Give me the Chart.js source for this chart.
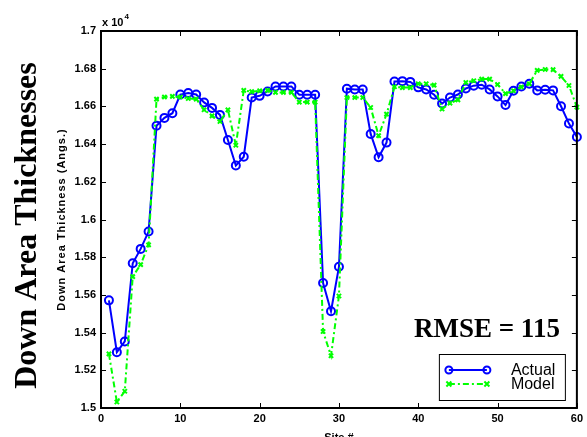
<!DOCTYPE html>
<html>
<head>
<meta charset="utf-8">
<script src="https://cdn.jsdelivr.net/npm/chart.js@4"></script>
<style>
  html, body { margin: 0; padding: 0; background: #fff; }
  #wrap { width: 587px; height: 437px; }
</style>
</head>
<body>
<div id="wrap"><canvas id="grafico" width="587" height="437"></canvas></div>
<script>
// dados (espessura em Angstroms)
const sites = Array.from({ length: 60 }, (_, i) => i + 1);

const actual = [15571, 15296, 15353, 15768, 15844, 15936, 16497, 16539, 16564, 16663,
                16671, 16663, 16621, 16592, 16555, 16422, 16286, 16333, 16647, 16656,
                16679, 16706, 16706, 16706, 16662, 16662, 16662, 15663, 15513, 15749,
                16694, 16690, 16690, 16454, 16330, 16408, 16732, 16734, 16730, 16701,
                16690, 16662, 16615, 16647, 16663, 16695, 16710, 16715, 16690, 16653,
                16607, 16683, 16706, 16720, 16685, 16688, 16685, 16601, 16509, 16438];

const model = [15287, 15032, 15089, 15697, 15761, 15865, 16639, 16650, 16653, 16650,
               16642, 16639, 16582, 16550, 16520, 16582, 16394, 16685, 16678, 16683,
               16685, 16674, 16674, 16674, 16623, 16623, 16623, 15406, 15277, 15594,
               16647, 16647, 16647, 16594, 16445, 16559, 16704, 16700, 16700, 16720,
               16720, 16713, 16586, 16617, 16635, 16727, 16736, 16745, 16745, 16716,
               16668, 16683, 16703, 16720, 16791, 16796, 16795, 16759, 16711, 16596];

const seriesNames = ['Actual', 'Model'];
const rmseText = 'RMSE = 115';

const AZUL = '#0000ff';
const VERDE = '#00ff00';
const tickFont = { family: 'Liberation Sans', size: 11, weight: 'bold' };

// desenha caixa, ticks internos, títulos e legenda (estilo MATLAB)
const matlabPlugin = {
    id: 'matlab',
    afterDraw(chart) {
        const ctx = chart.ctx;
        const a = chart.chartArea;
        const xs = chart.scales.x;
        const ys = chart.scales.y;
        ctx.save();

        // ticks para dentro, nos 4 lados
        ctx.strokeStyle = '#000';
        ctx.lineWidth = 1;
        ctx.beginPath();
        xs.ticks.forEach(t => {
            const px = Math.round(xs.getPixelForValue(t.value)) + 0.5;
            ctx.moveTo(px, a.bottom); ctx.lineTo(px, a.bottom - 5);
            ctx.moveTo(px, a.top); ctx.lineTo(px, a.top + 5);
        });
        ys.ticks.forEach(t => {
            const py = Math.round(ys.getPixelForValue(t.value)) + 0.5;
            ctx.moveTo(a.left, py); ctx.lineTo(a.left + 5, py);
            ctx.moveTo(a.right, py); ctx.lineTo(a.right - 5, py);
        });
        ctx.stroke();

        // caixa
        ctx.lineWidth = 2;
        ctx.strokeRect(a.left, a.top, a.right - a.left, a.bottom - a.top);

        // "x 10^4"
        ctx.fillStyle = '#000';
        ctx.font = 'bold 11px "Liberation Sans"';
        ctx.textAlign = 'left';
        ctx.textBaseline = 'alphabetic';
        ctx.fillText('x 10', a.left + 1, a.top - 5);
        const w = ctx.measureText('x 10').width;
        ctx.font = 'bold 8px "Liberation Sans"';
        ctx.fillText('4', a.left + 2 + w, a.top - 12);

        // título do eixo x (cortado em baixo, como no original)
        ctx.font = 'bold 11px "Liberation Sans"';
        ctx.textAlign = 'center';
        ctx.fillText('Site #', (a.left + a.right) / 2, a.bottom + 33);

        // títulos do eixo y
        ctx.save();
        ctx.translate(62, (a.top + a.bottom) / 2);
        ctx.rotate(-Math.PI / 2);
        ctx.textBaseline = 'middle';
        ctx.letterSpacing = '1px';
        ctx.fillText('Down Area Thickness (Angs.)', 0, 0);
        ctx.restore();

        ctx.save();
        ctx.translate(28, (a.top + a.bottom) / 2 + 6);
        ctx.rotate(-Math.PI / 2);
        ctx.textBaseline = 'middle';
        ctx.font = 'bold 32px "Liberation Serif"';
        ctx.fillText('Down Area Thicknesses', 0, 0);
        ctx.restore();

        // RMSE
        ctx.font = 'bold 27px "Liberation Serif"';
        ctx.textAlign = 'right';
        ctx.textBaseline = 'alphabetic';
        ctx.fillText(rmseText, a.right - 17, a.bottom - 71);

        // legenda
        const bx = a.right - 138, by = a.bottom - 54, bw = 126, bh = 46;
        ctx.fillStyle = '#fff';
        ctx.fillRect(bx, by, bw, bh);
        ctx.lineWidth = 1;
        ctx.strokeStyle = '#000';
        ctx.strokeRect(bx + 0.5, by + 0.5, bw, bh);

        const itens = [
            { nome: seriesNames[0], cor: AZUL, dash: [], y: by + 16 },
            { nome: seriesNames[1], cor: VERDE, dash: [6, 3, 2, 3], y: by + 30 }
        ];
        itens.forEach((it, i) => {
            const x1 = bx + 10, x2 = bx + 48;
            ctx.strokeStyle = it.cor;
            ctx.lineWidth = 2;
            ctx.setLineDash(it.dash);
            ctx.beginPath();
            ctx.moveTo(x1, it.y); ctx.lineTo(x2, it.y);
            ctx.stroke();
            ctx.setLineDash([]);
            [x1, x2].forEach(x => {
                ctx.beginPath();
                if (i === 0) {
                    ctx.arc(x, it.y, 3.5, 0, Math.PI * 2);
                } else {
                    ctx.moveTo(x - 2.5, it.y - 2.5); ctx.lineTo(x + 2.5, it.y + 2.5);
                    ctx.moveTo(x + 2.5, it.y - 2.5); ctx.lineTo(x - 2.5, it.y + 2.5);
                }
                ctx.stroke();
            });
            ctx.fillStyle = '#000';
            ctx.font = '16px "Liberation Sans"';
            ctx.textAlign = 'left';
            ctx.textBaseline = 'middle';
            ctx.fillText(it.nome, bx + 72, it.y + 1);
        });

        ctx.restore();
    }
};

const ctx = document.getElementById('grafico').getContext('2d');

new Chart(ctx, {
    type: 'line',
    data: {
        datasets: [
            {
                label: seriesNames[0],
                data: sites.map((s, i) => ({ x: s, y: actual[i] })),
                borderColor: AZUL,
                backgroundColor: 'rgba(0,0,0,0)',
                borderWidth: 2,
                pointStyle: 'circle',
                pointRadius: 4,
                pointBorderWidth: 2,
                tension: 0,
                clip: false,
                order: 1
            },
            {
                label: seriesNames[1],
                data: sites.map((s, i) => ({ x: s, y: model[i] })),
                borderColor: VERDE,
                backgroundColor: VERDE,
                borderWidth: 2,
                borderDash: [6, 3, 2, 3],
                pointStyle: 'crossRot',
                pointRadius: 3,
                pointBorderWidth: 2,
                tension: 0,
                clip: false,
                order: 0
            }
        ]
    },
    options: {
        responsive: false,
        animation: false,
        layout: { padding: { top: 31, right: 10, left: 0, bottom: 0 } },
        scales: {
            x: {
                type: 'linear',
                min: 0,
                max: 60,
                ticks: { stepSize: 10, color: '#000', font: tickFont, padding: 4, maxRotation: 0 },
                grid: { display: false, drawTicks: false },
                border: { display: false },
                afterFit(scale) { scale.height = 29; }
            },
            y: {
                min: 15000,
                max: 17000,
                ticks: {
                    stepSize: 200,
                    color: '#000',
                    font: tickFont,
                    padding: 5,
                    callback: v => parseFloat((v / 1e4).toFixed(2)).toString()
                },
                grid: { display: false, drawTicks: false },
                border: { display: false },
                afterFit(scale) { scale.width = 101; }
            }
        },
        plugins: {
            legend: { display: false },
            tooltip: { enabled: false }
        }
    },
    plugins: [matlabPlugin]
});
</script>
</body>
</html>
